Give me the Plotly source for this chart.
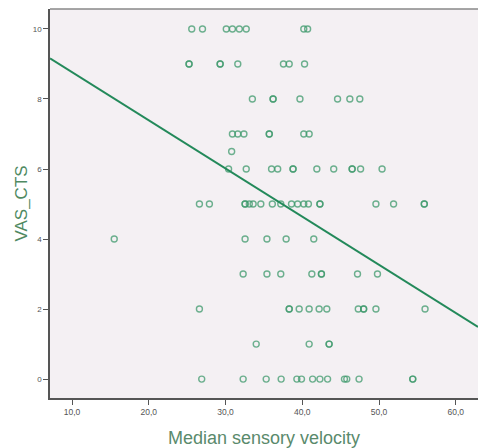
import plotly.graph_objects as go

# VAS_CTS levels and the median sensory velocity values observed at each level
vas_levels = [10, 9, 8, 7, 6.5, 6, 5, 4, 3, 2, 1, 0]
velocity_by_level = [
    [25.6, 27.0, 30.1, 30.9, 31.8, 32.7, 40.2, 40.7],
    [25.25, 25.25, 29.3, 29.3, 31.6, 37.55, 38.3, 40.3],
    [33.5, 36.2, 36.2, 39.7, 44.6, 46.2, 47.5],
    [30.9, 31.6, 32.4, 35.7, 35.7, 40.2, 40.9],
    [30.8],
    [30.4, 32.7, 36.0, 36.8, 38.8, 38.8, 41.9, 44.1, 46.5, 46.5, 47.6, 50.4],
    [26.6, 27.9, 32.55, 32.55, 33.1, 33.6, 34.6, 36.1, 37.2, 38.6, 39.4, 40.2,
     40.8, 42.3, 42.3, 49.6, 51.9, 55.9, 55.9],
    [15.5, 32.55, 35.4, 37.9, 41.5],
    [32.3, 35.4, 37.2, 41.25, 42.5, 42.5, 47.2, 49.8],
    [26.6, 38.3, 38.3, 39.6, 40.9, 42.2, 43.2, 47.3, 48.0, 48.0, 49.6, 56.0],
    [34.0, 40.9, 43.5, 43.5],
    [26.9, 32.3, 35.3, 37.25, 39.3, 39.9, 41.35, 42.3, 43.3, 45.5, 45.8, 47.4,
     54.4, 54.4],
]

# Fit line at the axis range ends
fit_x = [7.13, 62.9]
fit_y = [9.16, 1.49]

x_ticks = [10, 20, 30, 40, 50, 60]
x_tick_labels = ["10,0", "20,0", "30,0", "40,0", "50,0", "60,0"]
y_ticks = [0, 2, 4, 6, 8, 10]
y_tick_labels = ["0", "2", "4", "6", "8", "10"]

xs, ys = [], []
for lvl, vals in zip(vas_levels, velocity_by_level):
    for v in vals:
        xs.append(v)
        ys.append(lvl)

fig = go.Figure()
fig.add_trace(go.Scatter(
    x=xs, y=ys, mode="markers",
    marker=dict(symbol="circle-open", size=6, color="#3f9a6c",
                line=dict(width=1.4), opacity=0.75),
    showlegend=False, hoverinfo="skip",
))
fig.add_trace(go.Scatter(
    x=fit_x, y=fit_y, mode="lines",
    line=dict(color="#23895a", width=2),
    showlegend=False, hoverinfo="skip",
))

fig.update_layout(
    width=478, height=448,
    margin=dict(l=50, r=0, t=9, b=50, autoexpand=False),
    paper_bgcolor="white",
    plot_bgcolor="#F4F0F3",
    font=dict(family="Liberation Sans, Arial, sans-serif", color="#444"),
    xaxis=dict(
        range=[fit_x[0], fit_x[1]],
        tickvals=x_ticks, ticktext=x_tick_labels,
        tickfont=dict(size=8.5, color="#555"),
        ticks="outside", ticklen=5, tickcolor="#555", tickwidth=1,
        showline=True, linecolor="#555", linewidth=1.5,
        showgrid=False, zeroline=False,
        title=dict(text="Median sensory velocity",
                   font=dict(size=18, color="#5a8a6c"), standoff=15),
    ),
    yaxis=dict(
        range=[-0.54, 10.57],
        tickvals=y_ticks, ticktext=y_tick_labels,
        tickfont=dict(size=8, color="#555"),
        ticks="outside", ticklen=5, tickcolor="#555", tickwidth=1,
        showline=True, linecolor="#555", linewidth=1.5,
        showgrid=False, zeroline=False,
        title=dict(text="VAS_CTS", font=dict(size=17, color="#4f8a62"),
                   standoff=1),
    ),
    shapes=[dict(type="line", xref="paper", yref="paper", x0=0, x1=1,
                 y0=1, y1=1, line=dict(color="#888", width=1.5))],
)

fig.write_html(
    "out.html",
    config={"displayModeBar": False},
    post_script="document.body.style.margin='0';document.body.style.overflow='hidden';",
)
